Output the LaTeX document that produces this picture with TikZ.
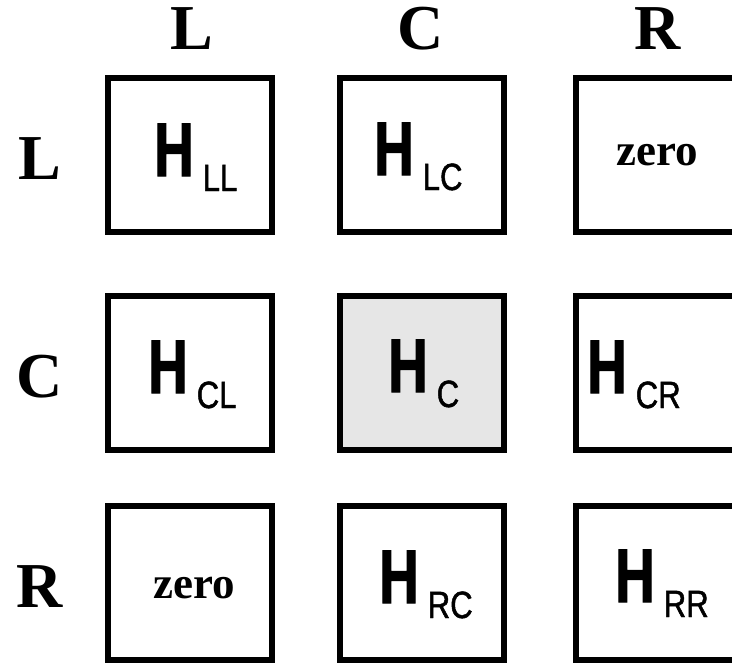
\documentclass[tikz,border=0pt]{standalone}
\usepackage{fontspec}
\setmainfont{Liberation Serif}
\newfontfamily\hfnt[FakeStretch=0.72,FakeBold=1.5]{Liberation Sans}
\newfontfamily\sfnt[FakeStretch=0.82,FakeBold=1.2]{Liberation Sans}
\newcommand\Hsub[1]{{\hfnt\bfseries\fontsize{76}{76}\selectfont H}\kern9pt\raisebox{-15pt}{\sfnt\fontsize{38}{38}\selectfont #1}}
\begin{document}
\begin{tikzpicture}[x=1pt,y=-1pt,
 cell/.style={draw=black, line width=5.5pt, minimum width=164pt, minimum height=154pt, inner sep=0pt, fill=white},
 hdr/.style={font=\fontsize{64}{64}\selectfont\bfseries, inner sep=0pt, anchor=base},
 zerotxt/.style={font=\fontsize{45}{45}\selectfont\bfseries, inner sep=0pt, anchor=base},
 hlab/.style={inner sep=0pt, anchor=base west}]
\useasboundingbox (0,0) rectangle (732,664);
\clip (0,0) rectangle (732,664);
% boxes
\node[cell] (bLL) at (190,155) {};
\node[cell] (bLC) at (422,155) {};
\node[cell] (bLR) at (658,155) {};
\node[cell] (bCL) at (190,373) {};
\node[cell, fill={rgb,255:red,230;green,230;blue,230}] (bCC) at (422,373) {};
\node[cell] (bCR) at (658,373) {};
\node[cell] (bRL) at (190,583) {};
\node[cell] (bRC) at (422,583) {};
\node[cell] (bRR) at (658,583) {};
% headers
\node[hdr] (hL) at (192,49) {L};
\node[hdr] (hC) at (421,49) {C};
\node[hdr] (hR) at (658,49) {R};
\node[hdr] (rL) at (40,179) {L};
\node[hdr] (rC) at (40,397) {C};
\node[hdr] (rR) at (40,607) {R};
% contents
\node[hlab] (tLL) at (154,176) {\Hsub{LL}};
\node[hlab] (tLC) at (374,175) {\Hsub{LC}};
\node[zerotxt] (tLR) at (657,165) {zero};
\node[hlab] (tCL) at (148,393) {\Hsub{CL}};
\node[hlab] (tCC) at (388,392) {\Hsub{C}};
\node[hlab] (tCR) at (587,393) {\Hsub{CR}};
\node[zerotxt] (tRL) at (194,598) {zero};
\node[hlab] (tRC) at (379,603) {\Hsub{RC}};
\node[hlab] (tRR) at (615,602) {\Hsub{RR}};
\end{tikzpicture}
\end{document}
